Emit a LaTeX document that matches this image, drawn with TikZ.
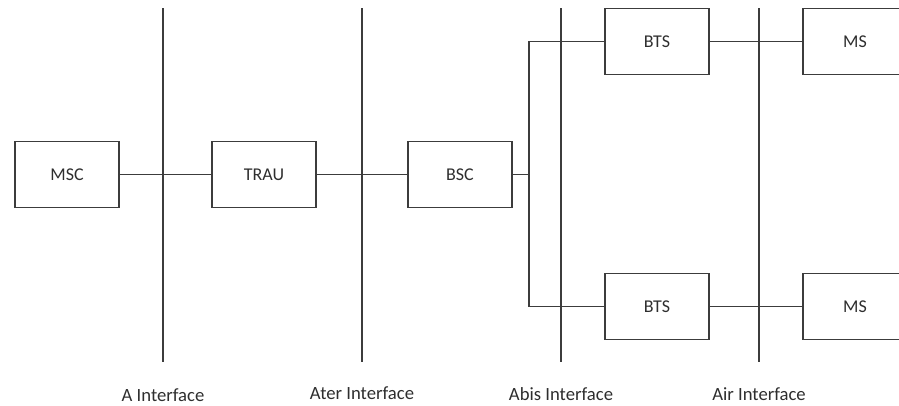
\documentclass[tikz,border=0pt]{standalone}
\usepackage{fontspec}
\setmainfont{Carlito}
\usetikzlibrary{positioning}
\definecolor{linecol}{HTML}{3C3C3C}
\definecolor{textcol}{HTML}{2E2E2E}

\begin{document}
\begin{tikzpicture}[x=0.75pt, y=-0.75pt,
  unit/.style={draw=linecol, line width=0.8pt, minimum width=78pt,
               minimum height=50pt, inner sep=0pt, text=textcol,
               font=\fontsize{13.5}{15}\selectfont},
  link/.style={draw=linecol, line width=0.8pt},
  iface/.style={draw=linecol, line width=0.9pt},
  ilbl/.style={anchor=base, text=textcol, font=\fontsize{14}{16}\selectfont}
]
  \useasboundingbox (0,0) rectangle (899,405);
  \clip (0,0) rectangle (899,405);

  % network elements
  \node[unit] (msc) at (67,174.5) {MSC};
  \node[unit] (trau) at (264,174.5) {TRAU};
  \node[unit] (bsc) at (460,174.5) {BSC};
  \node[unit] (btsA) at (657,41.5) {BTS};
  \node[unit] (btsB) at (657,306.5) {BTS};
  \node[unit] (msA) at (855,41.5) {MS};
  \node[unit] (msB) at (855,306.5) {MS};

  % interface lines
  \coordinate (aTop) at (163,8);    \coordinate (aBot) at (163,362);
  \coordinate (aterTop) at (362,8); \coordinate (aterBot) at (362,362);
  \coordinate (abisTop) at (561,8); \coordinate (abisBot) at (561,362);
  \coordinate (airTop) at (759,8);  \coordinate (airBot) at (759,362);
  \draw[iface] (aTop) -- (aBot);
  \draw[iface] (aterTop) -- (aterBot);
  \draw[iface] (abisTop) -- (abisBot);
  \draw[iface] (airTop) -- (airBot);

  \node[ilbl] (aLbl) at (163,401) {A Interface};
  \node[ilbl] (aterLbl) at (362,399) {Ater Interface};
  \node[ilbl] (abisLbl) at (561,400.5) {Abis Interface};
  \node[ilbl] (airLbl) at (759,400) {Air Interface};

  % links
  \coordinate (fork) at (529,174.5);
  \draw[link] (msc) -- (trau);
  \draw[link] (trau) -- (bsc);
  \draw[link] (bsc) -- (fork);
  \draw[link] (btsA.west) -| (fork) |- (btsB.west);
  \draw[link] (btsA) -- (msA);
  \draw[link] (btsB) -- (msB);
\end{tikzpicture}
\end{document}
